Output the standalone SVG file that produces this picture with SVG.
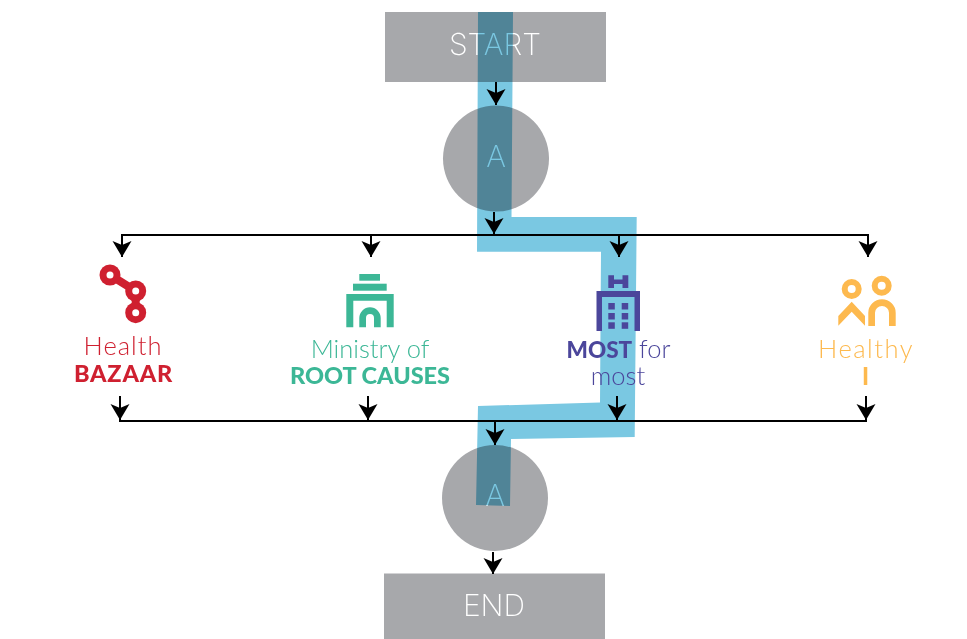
<svg xmlns="http://www.w3.org/2000/svg" width="967" height="639" viewBox="0 0 967 639">
<style>
.shape{fill:#a7a8ab}
.big{font-family:"Inter","Liberation Sans",sans-serif;font-weight:200;font-size:30px;fill:#fff;text-anchor:middle}
.lt{font-family:"Lato","Noto Sans",sans-serif;font-weight:300;font-size:25.500px;text-anchor:middle}
.hv{font-family:"Lato","Noto Sans",sans-serif;font-weight:900;font-size:23.500px;text-anchor:middle}
.flow{fill:#7ac8e2;mix-blend-mode:multiply}
.line{fill:none;stroke:#000;stroke-width:2}
.arr{fill:none;stroke:#000;stroke-width:2;marker-end:url(#ah)}
.red{fill:#cf2030}.green{fill:#3cb796}.indigo{fill:#4b469b}.amber{fill:#fdb94e}
</style>
<defs>
<marker id="ah" markerUnits="userSpaceOnUse" markerWidth="18" markerHeight="20" viewBox="0 0 18 20" refX="17" refY="10" orient="auto" overflow="visible">
<path d="M1 0.500 L5 10 L1 19.500 L17 10 Z" fill="#000"/>
</marker>
</defs>
<rect width="967" height="639" fill="#fff"/>
<g id="start"><rect class="shape" x="385" y="12" width="221" height="70"/><text class="big" x="495" y="55">START</text></g>
<g id="decision-a-top"><circle class="shape" cx="496" cy="158.500" r="53"/><text class="big" x="496" y="167">A</text></g>
<g id="decision-a-bottom"><circle class="shape" cx="495" cy="498" r="53"/><text class="big" x="495" y="506">A</text></g>
<g id="end"><rect class="shape" x="384" y="573.500" width="221" height="65.500"/><text class="big" x="494" y="616">END</text></g>
<polygon id="flow" class="flow" points="478,12 513,12 511.500,217 636.700,217 634.700,437 511,439 510,506 476,505 478,406 600,402.500 601,251.700 477,251.700"/>
<g id="connectors">
<path class="line" d="M121 235H869M119 421H867"/>
<path class="arr" d="M496 82V105"/><path class="arr" d="M494 212V234"/>
<path class="arr" d="M122 235V257"/><path class="arr" d="M371 235V257"/><path class="arr" d="M619 235V257"/><path class="arr" d="M868 235V257"/>
<path class="arr" d="M120 396V420"/><path class="arr" d="M368 396V420"/><path class="arr" d="M617 396V420"/><path class="arr" d="M866 396V420"/>
<path class="arr" d="M495 421V445"/><path class="arr" d="M493 552V574"/>
</g>
<g id="health-bazaar">
<path d="M110 275L135.700 291V312.700" fill="none" stroke="#cf2030" stroke-width="8"/>
<g class="red"><circle cx="110" cy="275" r="10.500"/><circle cx="135.700" cy="291" r="10.500"/><circle cx="135.700" cy="312.700" r="10.500"/></g>
<g fill="#fff"><circle cx="110" cy="275" r="3.500"/><circle cx="135.700" cy="291" r="3.500"/><circle cx="135.700" cy="312.700" r="3.500"/></g>
<text class="lt red" x="123" y="355" letter-spacing="1">Health</text>
<text class="hv red" x="123.500" y="382" letter-spacing="0.800">BAZAAR</text>
</g>
<g id="ministry-root-causes">
<rect class="green" x="359.300" y="274" width="20.700" height="6.700"/>
<rect class="green" x="353" y="283.700" width="33.700" height="7"/>
<path class="green" fill-rule="evenodd" d="M346.300 294H393.700V327.300H386.700V300.700H353.300V327.300H346.300ZM359.300 327.300V318a10.700 10.700 0 0 1 21.400 0V327.300H374V318a4 4 0 0 0-8 0V327.300Z"/>
<text class="lt green" x="370" y="358">Ministry of</text>
<text class="hv green" x="370" y="384">ROOT CAUSES</text>
</g>
<g id="most-for-most">
<path class="indigo" d="M608.300 275.300H614V279.500H622.500V275.300H628.300V288H622.500V284H614V288H608.300Z"/>
<path class="indigo" d="M596.500 291H640V331H634.500V297H602V331H596.500Z"/>
<g class="indigo"><rect x="608.300" y="303" width="6.500" height="6.500"/><rect x="621.700" y="303" width="6.500" height="6.500"/><rect x="608.300" y="313" width="6.500" height="6.500"/><rect x="621.700" y="313" width="6.500" height="6.500"/><rect x="608.300" y="322.300" width="6.500" height="6.500"/><rect x="621.700" y="322.300" width="6.500" height="6.500"/></g>
<text class="lt indigo" x="618.500" y="358"><tspan class="hv indigo" style="font-size:22.500px">MOST</tspan> for</text>
<text class="lt indigo" x="618" y="385">most</text>
</g>
<g id="healthy-i">
<path class="amber" fill-rule="evenodd" d="M841.700 289a10 10 0 1 0 20 0a10 10 0 1 0-20 0ZM847.700 289a4 4 0 1 1 8 0a4 4 0 1 1-8 0ZM871.700 285.700a10 10 0 1 0 20 0a10 10 0 1 0-20 0ZM877.700 285.700a4 4 0 1 1 8 0a4 4 0 1 1-8 0Z"/>
<path class="amber" d="M838.300 316L851.700 301.700L865 316V325.700L851.700 311.700L838.300 325.700Z"/>
<path class="amber" d="M868.300 326V312.700a13.700 13.400 0 0 1 27.400 0V326H889V312.700a7 6.700 0 0 0-14 0V326Z"/>
<text class="lt amber" x="866" y="358" letter-spacing="1.500">Healthy</text>
<text class="lt amber" x="865.500" y="385" style="font-weight:700">I</text>
</g>
</svg>
